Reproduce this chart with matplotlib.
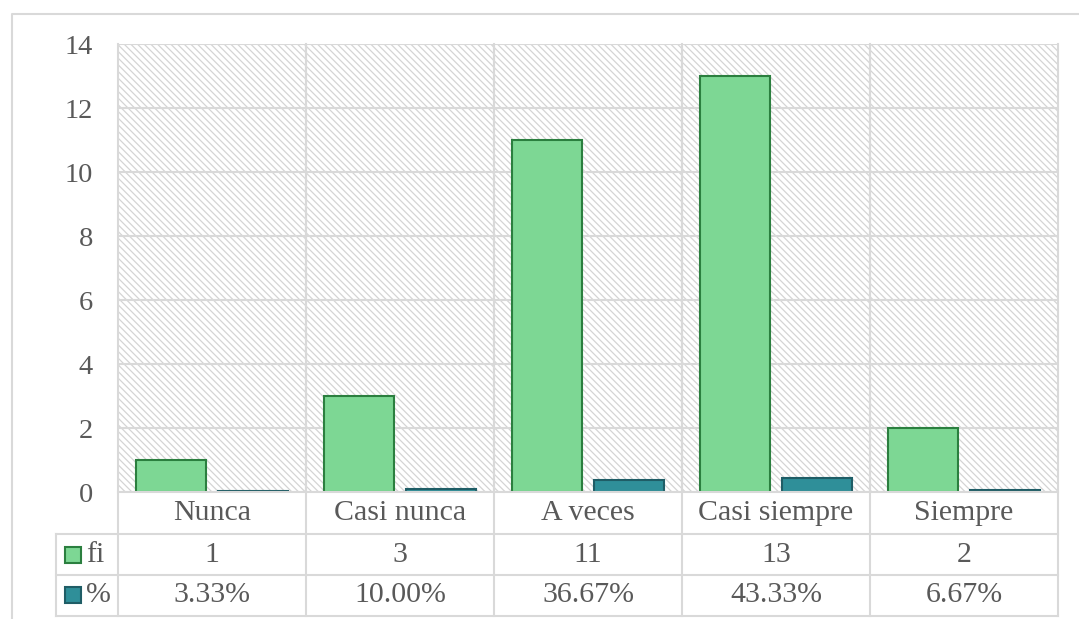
import matplotlib.pyplot as plt
from matplotlib.patches import Rectangle
from matplotlib.lines import Line2D

# ---- data ----
categories = ["Nunca", "Casi nunca", "A veces", "Casi siempre", "Siempre"]
fi_values = [1, 3, 11, 13, 2]
pct_values = [0.0333, 0.1000, 0.3667, 0.4333, 0.0667]
fi_labels = ["1", "3", "11", "13", "2"]
pct_labels = ["3.33%", "10.00%", "36.67%", "43.33%", "6.67%"]

# ---- style ----
plt.rcParams["font.family"] = ["Liberation Serif", "DejaVu Serif"]
plt.rcParams["hatch.linewidth"] = 0.9
text_color = "#595959"
grid_color = "#d9d9d9"
green_fill, green_edge = "#7dd794", "#2b7f3f"
teal_fill, teal_edge = "#2f8f99", "#1f5d66"

W, H = 1079, 619
fig = plt.figure(figsize=(W / 100, H / 100), dpi=100)
fig.patch.set_facecolor("white")


def fx(px):
    return px / W


def fy(py):
    return 1 - py / H


# chart outer border (left and top edges fall inside the canvas)
fig.add_artist(Line2D([fx(11.5), fx(11.5), fx(1085)], [fy(630), fy(14), fy(14)],
                      transform=fig.transFigure, color=grid_color, linewidth=1.5))

left, right, top, bottom = 118, 1058, 44, 492
ax = fig.add_axes([fx(left), fy(bottom), fx(right) - fx(left), fy(top) - fy(bottom)])
ax.set_xlim(-0.5, 4.5)
ax.set_ylim(0, 14)
ax.patch.set_facecolor("white")

# hatched plot-area background
ax.add_patch(Rectangle((0, 0), 1, 1, transform=ax.transAxes, facecolor="white",
                       edgecolor="#d4d4d4", linewidth=0, hatch="\\\\\\\\\\",
                       zorder=0.5))

x = list(range(len(categories)))
width = 0.372
ax.bar([i - 0.22 for i in x], fi_values, width=width, color=green_fill,
       edgecolor=green_edge, linewidth=1.5, zorder=3)
ax.bar([i + 0.22 for i in x], pct_values, width=width, color=teal_fill,
       edgecolor=teal_edge, linewidth=1.5, zorder=3)

ax.set_yticks(range(0, 15, 2))
ax.tick_params(axis="y", length=0, pad=18, labelsize=20.5, labelcolor=text_color)
ax.set_xticks([])
ax.grid(axis="y", color=grid_color, linewidth=1.5, zorder=1)
for xv in [0.5, 1.5, 2.5, 3.5]:
    ax.axvline(xv, color=grid_color, linewidth=1.5, zorder=1)
for s in ax.spines.values():
    s.set_visible(False)

# ---- data table below the axis ----
row_lines = [492, 534, 575, 616]
col_edges = [118 + 188 * k for k in range(6)]
legend_left = 56

lines = []
lines.append(((left, right), (492, 492)))
for yy in row_lines[1:]:
    lines.append(((legend_left, right), (yy, yy)))
for xe in col_edges:
    lines.append(((xe, xe), (top, 616)))
lines.append(((legend_left, legend_left), (534, 616)))
for (xs, ys) in lines:
    fig.add_artist(Line2D([fx(v) for v in xs], [fy(v) for v in ys],
                          transform=fig.transFigure, color=grid_color,
                          linewidth=1.5, zorder=5))

row_centers = [513, 555, 595]
rows = [categories, fi_labels, pct_labels]
for r, labels in enumerate(rows):
    for k, lab in enumerate(labels):
        cx = (col_edges[k] + col_edges[k + 1]) / 2
        fig.text(fx(cx), fy(row_centers[r]), lab, ha="center", va="center",
                 fontsize=21.5, color=text_color)

# legend keys in the table
for r, (name, fc, ec) in enumerate([("fi", green_fill, green_edge),
                                    ("%", teal_fill, teal_edge)]):
    cy = row_centers[r + 1]
    fig.add_artist(Rectangle((fx(65), fy(cy + 8)), fx(16), fy(0) - fy(16),
                             transform=fig.transFigure, facecolor=fc,
                             edgecolor=ec, linewidth=1.5))
    fig.text(fx(86), fy(cy), name, ha="left", va="center", fontsize=21.5,
             color=text_color)

fig.savefig("out.png", dpi=100)
